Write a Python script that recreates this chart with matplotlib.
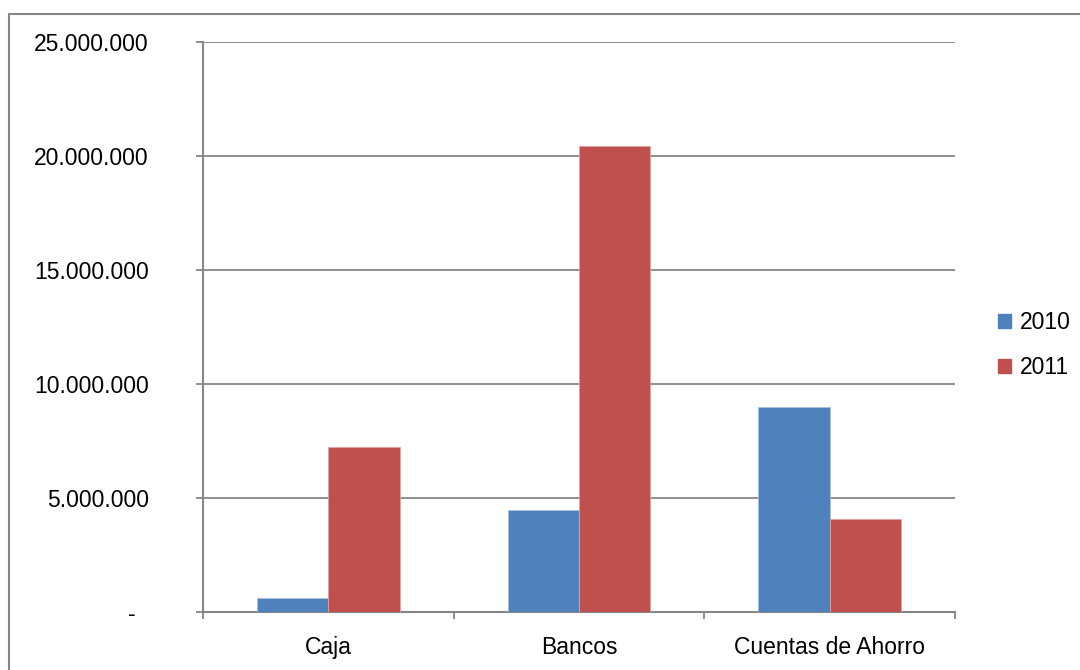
import matplotlib
matplotlib.use("Agg")
import matplotlib.pyplot as plt
from matplotlib.patches import Rectangle, Patch
import numpy as np

categories = ["Caja", "Bancos", "Cuentas de Ahorro"]
series_names = ["2010", "2011"]
values_2010 = [620000, 4490000, 8990000]
values_2011 = [7220000, 20450000, 4090000]
y_ticks = [0, 5000000, 10000000, 15000000, 20000000, 25000000]
y_tick_labels = ["-  ", "5.000.000", "10.000.000", "15.000.000", "20.000.000", "25.000.000"]

colors = ["#4F81BD", "#C0504D"]
grid_color = "#868686"

plt.rcParams['font.family'] = ['Liberation Sans', 'DejaVu Sans']
fs = 16.5

fig = plt.figure(figsize=(10.8, 6.7), dpi=100)
fig.patch.set_facecolor("white")

# outer chart border (left/top visible, right/bottom beyond image)
fig.patches.append(Rectangle((9/1080, -0.05), 1.2, 1 - 14/670 + 0.05,
                             transform=fig.transFigure, fill=False,
                             edgecolor="#868686", linewidth=1.5, zorder=0))

ax = fig.add_axes([203/1080, 1 - 612/670, (955 - 203)/1080, (612 - 42.3)/670])

x = np.arange(len(categories))
w = 0.285
ax.bar(x - w/2, values_2010, w, color=colors[0], edgecolor="#A7C0DE", linewidth=0.6, zorder=3)
ax.bar(x + w/2, values_2011, w, color=colors[1], edgecolor="#E0A3A1", linewidth=0.6, zorder=3)

ax.set_xlim(-0.5, len(categories) - 0.5)
ax.set_ylim(0, 25000000)

ax.set_yticks(y_ticks)
ax.set_yticklabels(y_tick_labels, fontsize=fs)
ax.yaxis.grid(True, color=grid_color, linewidth=1.3, zorder=0)
ax.tick_params(axis='y', length=5, width=1.3, color=grid_color, pad=34, direction='out')

ax.set_xticks(np.arange(-0.5, len(categories), 1.0))
ax.set_xticklabels([])
ax.set_xticks(x, minor=True)
ax.set_xticklabels(categories, minor=True, fontsize=fs)
ax.tick_params(axis='x', which='major', length=5, width=1.3, color=grid_color, direction='out')
ax.tick_params(axis='x', which='minor', length=0, pad=17)

for s in ["top", "right"]:
    ax.spines[s].set_visible(False)
for s in ["left", "bottom"]:
    ax.spines[s].set_color(grid_color)
    ax.spines[s].set_linewidth(1.5)
ax.set_axisbelow(True)

handles = [Patch(facecolor=c, edgecolor=c) for c in colors]
fig.legend(handles, series_names, loc="center left",
           bbox_to_anchor=(977/1080, 1 - 345/670), frameon=False,
           fontsize=fs, handlelength=0.6, handleheight=0.6,
           handletextpad=0.35, labelspacing=0.95)

fig.savefig("out.png", dpi=100)
